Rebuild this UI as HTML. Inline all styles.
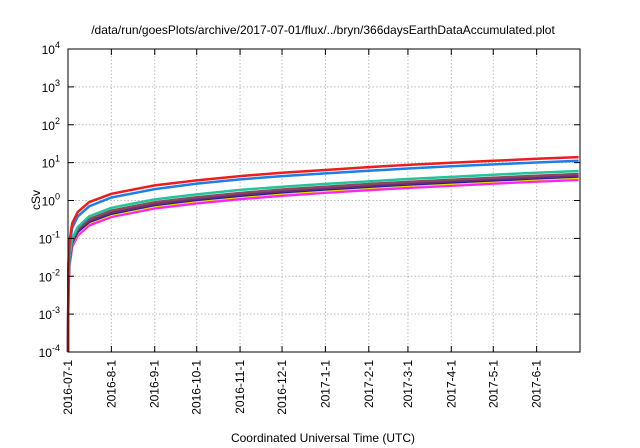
<!DOCTYPE html>
<html><head><meta charset="utf-8"><style>
body{margin:0;background:#fff;}
svg{display:block;font-family:"Liberation Sans",sans-serif;}
</style></head><body>
<svg id="c" width="640" height="448" xmlns="http://www.w3.org/2000/svg">
<rect width="640" height="448" fill="#fff"/>
<text x="323" y="34" font-size="12" text-anchor="middle" fill="#000">/data/run/goesPlots/archive/2017-07-01/flux/../bryn/366daysEarthDataAccumulated.plot</text>
<text transform="translate(40,200) rotate(-90)" font-size="12" text-anchor="middle">cSv</text>
<text x="323" y="442" font-size="12" text-anchor="middle">Coordinated Universal Time (UTC)</text>
<g id="grid"></g><g id="series"></g><g id="axes"></g>
</svg>
<script>
const tickLabels=["2016-07-1","2016-8-1","2016-9-1","2016-10-1","2016-11-1","2016-12-1","2017-1-1","2017-2-1","2017-3-1","2017-4-1","2017-5-1","2017-6-1"];
const tickDays=[0,31,62,92,123,153,184,215,243,274,304,335];
const yExps=[-4,-3,-2,-1,0,1,2,3,4];
const days=[0,0.3,1,3,7,15,31,62,92,123,153,184,215,243,274,304,335,365];
const red=[0.0001,0.02,0.08,0.25,0.5,0.9,1.5,2.5,3.4,4.4,5.4,6.4,7.6,8.7,9.9,11.2,12.6,14];
const blue=[0.0001,0.015,0.06,0.19,0.38,0.7,1.2,2.0,2.8,3.6,4.4,5.2,6.1,7.0,8.0,9.0,10.1,11.2];
const teal=[0.0001,0.008,0.03,0.1,0.2,0.38,0.64,1.07,1.45,1.9,2.3,2.75,3.2,3.7,4.2,4.8,5.4,6.0];
const brown=[0.0001,0.007,0.028,0.09,0.18,0.32,0.54,0.9,1.22,1.58,1.95,2.3,2.72,3.1,3.55,4.0,4.5,5.0];
const purple=[0.0001,0.006,0.025,0.08,0.16,0.29,0.48,0.8,1.1,1.42,1.75,2.07,2.45,2.8,3.2,3.6,4.05,4.5];
const navy=[0.0001,0.006,0.024,0.075,0.15,0.27,0.45,0.76,1.04,1.34,1.65,1.96,2.32,2.65,3.0,3.4,3.85,4.3];
const yellow=[0.0001,0.005,0.022,0.07,0.14,0.26,0.42,0.71,0.97,1.25,1.54,1.83,2.16,2.47,2.8,3.2,3.6,4.0];
const magenta=[0.0001,0.004,0.018,0.06,0.12,0.22,0.37,0.62,0.84,1.09,1.34,1.6,1.88,2.15,2.45,2.8,3.15,3.5];
const NS="http://www.w3.org/2000/svg";
const L=68,R=580,T=49,B=352;
const x=d=>L+d*(R-L)/366;
const y=v=>B-(Math.log10(v)+4)*(B-T)/8;
function mk(t,a,p){const e=document.createElementNS(NS,t);for(const k in a)e.setAttribute(k,a[k]);p.appendChild(e);return e;}
const grid=document.getElementById('grid'),axes=document.getElementById('axes'),ser=document.getElementById('series');
yExps.forEach(e=>{const yy=y(Math.pow(10,e));
 if(e>-4&&e<4){const g=mk('line',{x1:L,x2:R,y1:yy,y2:yy,stroke:'#bbb','stroke-dasharray':'1.5,2'},grid);
 
 }
 mk('line',{x1:L,x2:L+6,y1:yy,y2:yy,stroke:'#000'},axes);mk('line',{x1:R,x2:R-6,y1:yy,y2:yy,stroke:'#000'},axes);
 const t=mk('text',{x:L-8,y:yy+5,'font-size':12,'text-anchor':'end'},axes);
 
 
 t.textContent='10';const s=mk('tspan',{dy:-6,'font-size':9},t);s.textContent=e;});
tickDays.forEach((d,i)=>{const xx=x(d);
 if(i>0){const g=mk('line',{x1:xx,x2:xx,y1:T,y2:B,stroke:'#bbb','stroke-dasharray':'1.5,2'},grid);
 
 }
 mk('line',{x1:xx,x2:xx,y1:B,y2:B-6,stroke:'#000'},axes);mk('line',{x1:xx,x2:xx,y1:T,y2:T+6,stroke:'#000'},axes);
 const t=mk('text',{transform:`translate(${xx+4},${B+8}) rotate(-90)`,'font-size':12,'text-anchor':'end'},axes);
 
 
 t.textContent=tickLabels[i];});
const fr=mk('rect',{x:L,y:T,width:R-L,height:B-T,fill:'none',stroke:'#000','stroke-width':1},axes);


const list=[[magenta,'#ff22ff','series-magenta'],[yellow,'#e8e000','series-yellow'],[navy,'#1a1aa0','series-navy'],[purple,'#6a2a80','series-purple'],[brown,'#8a4a5a','series-brown'],[teal,'#22c49c','series-teal'],[blue,'#1a80e8','series-blue'],[red,'#ee1c1c','series-red']];
list.forEach(([vals,col,name])=>{const pts=days.map((d,i)=>x(d).toFixed(1)+','+y(vals[i]).toFixed(1)).join(' ');
 const p=mk('polyline',{points:pts,fill:'none',stroke:col,'stroke-width':2.5,'stroke-linejoin':'round'},ser);
 
 });
</script>
</body></html>
